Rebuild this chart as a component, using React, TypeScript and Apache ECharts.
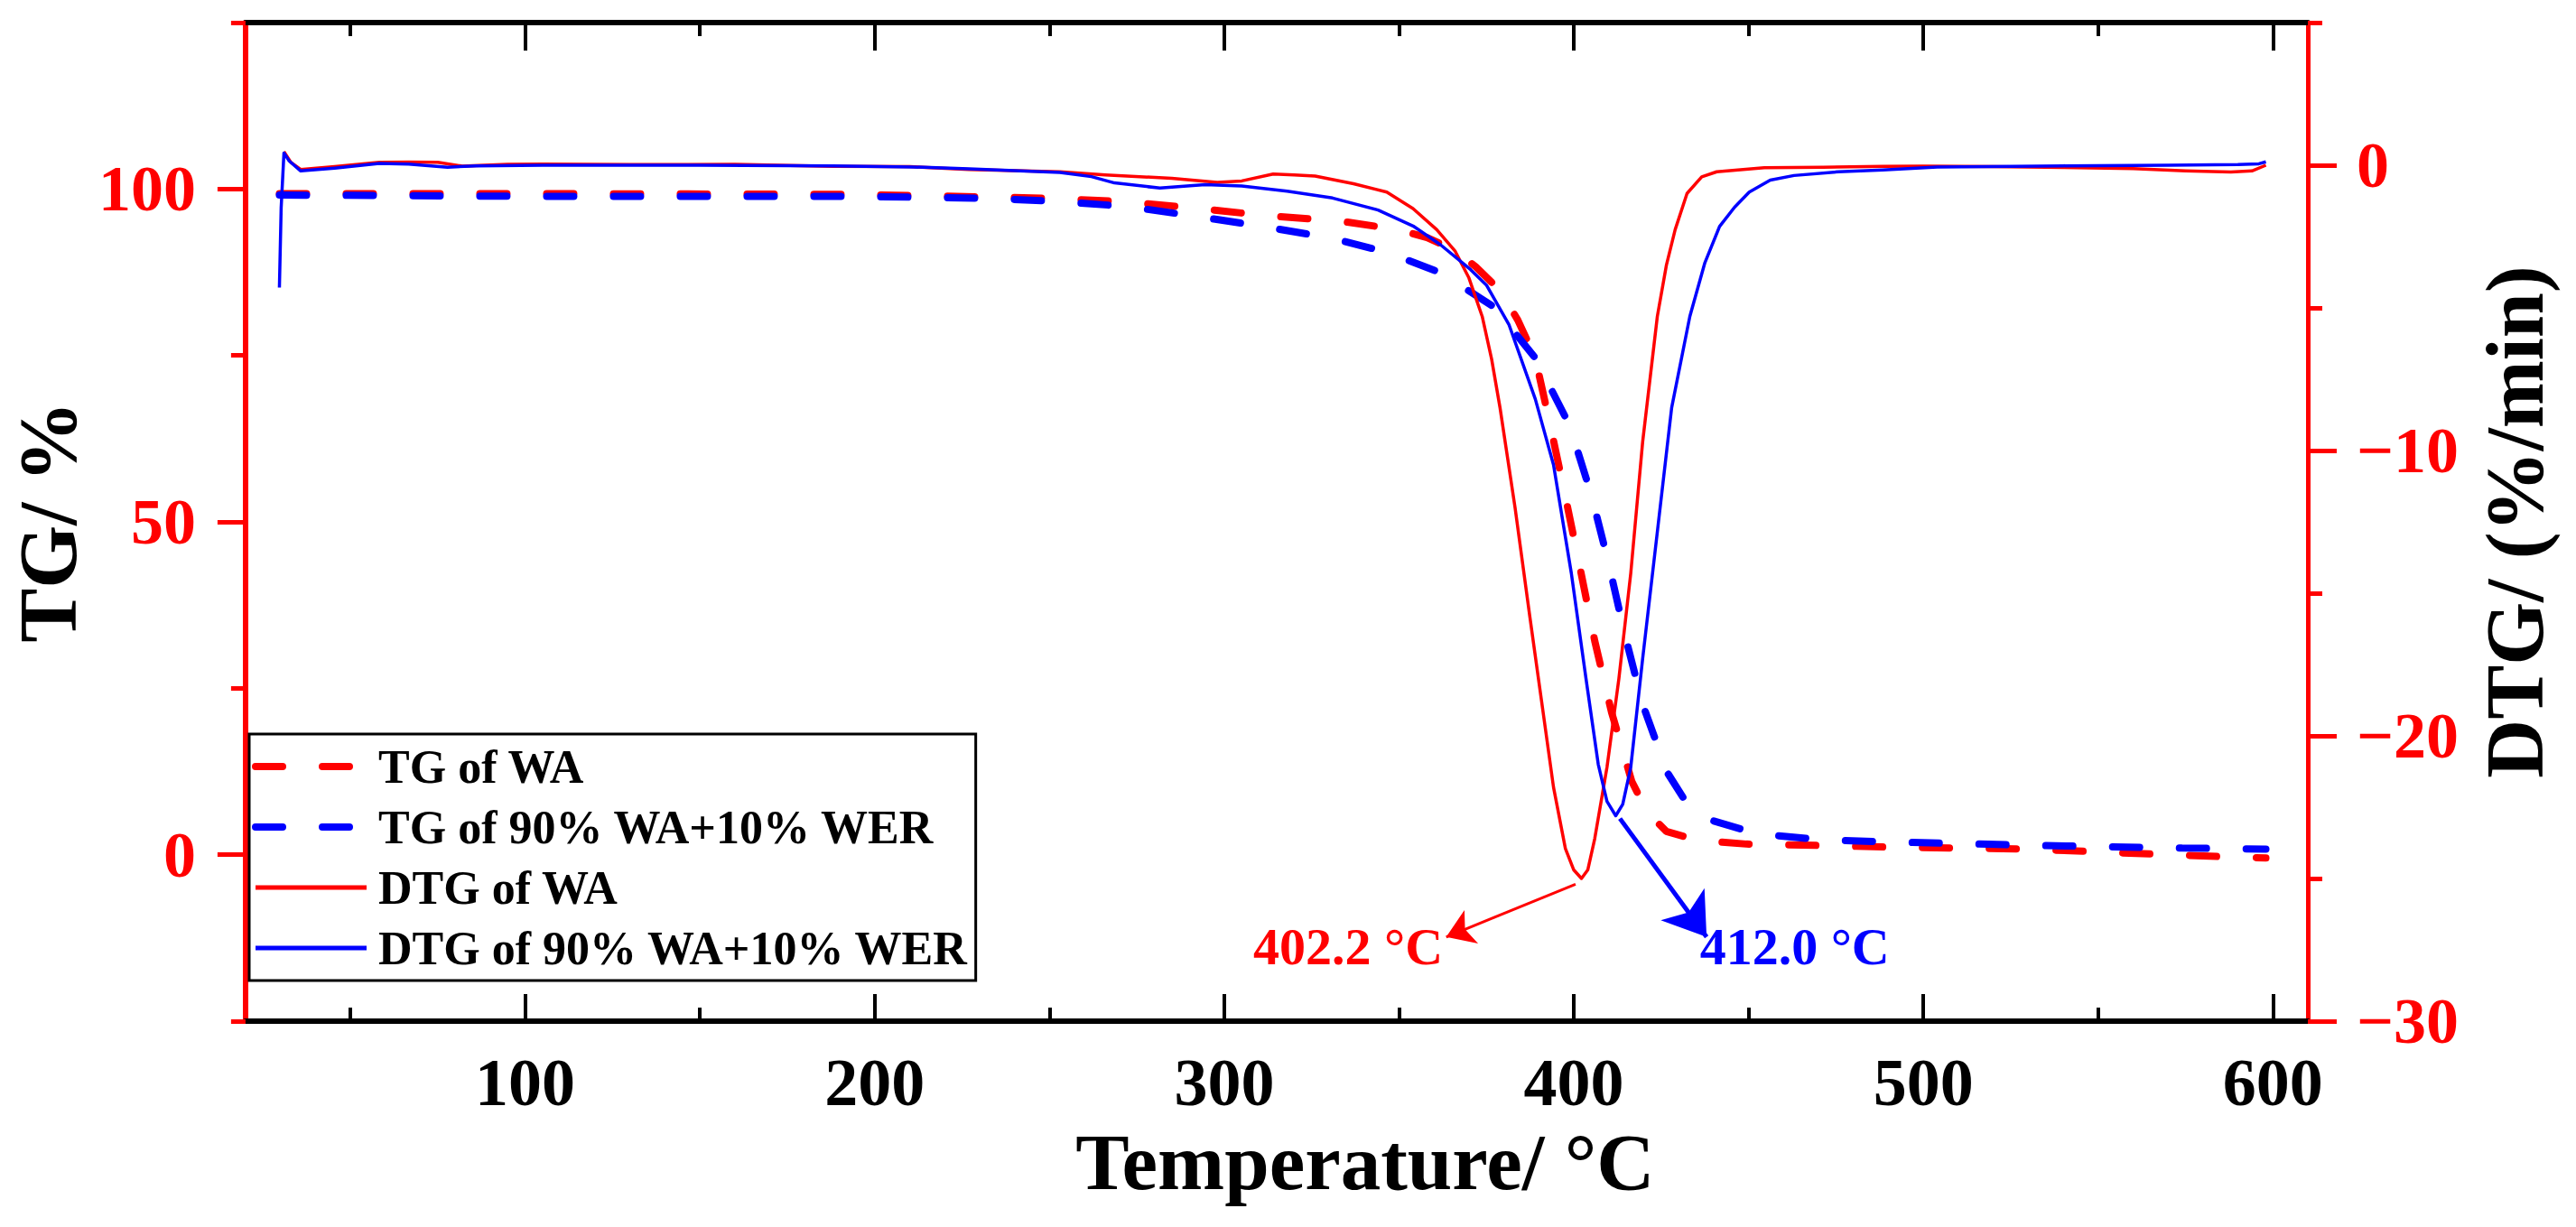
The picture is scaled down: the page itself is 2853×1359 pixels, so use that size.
import React, { useEffect, useRef } from "react";
import * as echarts from "echarts";

// temperature (°C) / value pairs
const tgWA: [number, number][] = [
  [29.7, 99.3], [100, 99.3], [193, 99.2], [212.7, 99.0], [250, 98.6], [271, 98.1],
  [290.6, 97.2], [312, 96.0], [333, 95.2], [349.7, 93.9], [358, 92.7], [366, 90.8],
  [372, 88.3], [379, 84.7], [384, 80.3], [389, 74.6], [393.4, 64.2], [397.6, 53.8],
  [401.9, 42.8], [406, 32.1], [410.8, 21.4], [416.6, 11.0], [421, 6.4], [426.5, 3.5],
  [435, 2.2], [449.4, 1.6], [469.7, 1.4], [490, 1.14], [530, 0.85], [570, 0.0], [598, -0.5],
];

const tgBlend: [number, number][] = [
  [29.7, 99.1], [100, 98.9], [193, 98.9], [233, 98.6], [253, 98.1], [271.8, 97.4],
  [289.4, 96.1], [310.7, 94.4], [331, 92.6], [346.5, 90.5], [362, 87.4], [377.4, 82.2],
  [389, 74.6], [398.8, 64.5], [405, 54.1], [410, 43.7], [414.6, 33.1], [419.7, 22.6],
  [426.8, 12.3], [432, 8.0], [439.2, 5.2], [452.8, 3.1], [472.3, 2.2], [492, 1.9],
  [532, 1.4], [574, 1.0], [598, 0.85],
];

const dtgWA: [number, number][] = [
  [31.0, 0.48], [33, 0.1], [35.8, -0.15], [45.5, -0.05], [58.3, 0.1], [66.7, 0.11],
  [75, 0.1], [82, -0.03], [95, 0.03], [105, 0.04], [130, 0.02], [160, 0.03],
  [188, -0.04], [210, -0.05], [227, -0.15], [253, -0.23], [266, -0.34], [285, -0.46],
  [298, -0.6], [305, -0.55], [314, -0.31], [320, -0.34], [326, -0.38], [337, -0.65],
  [346.5, -0.94], [354, -1.52], [360.8, -2.26], [366, -3.0], [370, -3.95], [373.8, -5.3],
  [376.5, -6.8], [378.9, -8.5], [383.2, -12.0], [387.4, -15.8], [390.8, -18.8],
  [394.2, -21.8], [397.6, -23.95], [400, -24.7], [402.2, -25.0], [404, -24.7],
  [406, -23.6], [409.5, -21.1], [412.9, -18.0], [416.3, -14.3], [419.7, -9.7],
  [423.9, -5.3], [426.5, -3.5], [429, -2.26], [432.4, -0.99], [436.6, -0.41],
  [440.9, -0.23], [454.5, -0.09], [471.3, -0.07], [488.4, -0.04], [500, -0.03],
  [520, -0.05], [540, -0.08], [560, -0.12], [575, -0.2], [588, -0.24], [594, -0.2],
  [598, 0.0],
];

const dtgBlend: [number, number][] = [
  [29.7, -4.29], [30.2, -1.5], [31.0, 0.43], [32.5, 0.15], [35.8, -0.2], [45.5, -0.1],
  [58.3, 0.06], [66.7, 0.04], [77.8, -0.07], [86, -0.02], [105, 0.0], [150, 0.0],
  [188, -0.02], [211, -0.06], [227, -0.13], [253, -0.25], [262, -0.4], [268.6, -0.62],
  [281.6, -0.8], [294.5, -0.68], [305, -0.73], [318, -0.91], [331, -1.15], [344, -1.57],
  [354.3, -2.15], [362, -2.8], [370.5, -3.66], [375, -4.2], [381.5, -5.6], [389, -8.2],
  [394.2, -10.5], [399.3, -14.3], [403.5, -18.0], [407, -21.0], [409.5, -22.3],
  [412.0, -22.8], [414, -22.4], [416.3, -21.1], [419.7, -17.3], [424, -12.75],
  [428, -8.5], [433.2, -5.3], [437.5, -3.42], [441.7, -2.15], [446, -1.47],
  [450.2, -0.94], [456.2, -0.52], [463, -0.36], [475.7, -0.23], [488.4, -0.17],
  [504, -0.06], [540, -0.02], [570, 0.0], [590, 0.02], [596, 0.05], [598, 0.12],
];

const seriesNames = [
  "TG of WA",
  "TG of 90% WA+10% WER",
  "DTG of WA",
  "DTG of 90% WA+10% WER",
];

const xMajor = [100, 200, 300, 400, 500, 600];
const xMinor = [50, 150, 250, 350, 450, 550];
const tgMajor = [0, 50, 100];
const tgMinor = [-25, 25, 75, 125];
const dtgMajor = [0, -10, -20, -30];
const dtgMinor = [5, -5, -15, -25];

// peak annotations: arrow start near the peak, arrow tip
const redPeak = [400.5, -25.2];
const redTip = [363.5, -27.05];
const bluePeak = [413.2, -22.9];
const blueTip = [438, -27.05];

const RED = "#ff0000";
const BLUE = "#0000ff";
const FONT = "'Liberation Serif', 'Times New Roman', serif";

const App = () => {
  const chartRef = useRef<HTMLDivElement>(null);

  useEffect(() => {
    document.body.style.margin = "0";
    if (!chartRef.current) return;
    const chart = echarts.init(chartRef.current, null, { renderer: "svg" });

    const minus = (v: number) => String(v).replace("-", "\u2212");

    const xBase = (extra: any) => ({
      type: "value",
      min: 20,
      max: 610,
      splitLine: { show: false },
      axisLine: { onZero: false, lineStyle: { color: "#000", width: 6 } },
      ...extra,
    });

    const yBase = (extra: any) => ({
      type: "value",
      splitLine: { show: false },
      axisLine: { onZero: false, lineStyle: { color: RED, width: 6 } },
      ...extra,
    });

    const legendItem = (name: string, width: number) => ({
      name,
      itemStyle: { opacity: 0 },
      lineStyle: { width },
    });

    const option: any = {
      animation: false,
      backgroundColor: "#fff",
      grid: { left: 240, right: 297, top: 25, bottom: 228, containLabel: false },
      legend: {
        orient: "vertical",
        left: 276,
        top: 813,
        padding: [6, 8, 6, 3],
        itemWidth: 123,
        itemHeight: 20,
        itemGap: 7,
        borderColor: "#000",
        borderWidth: 3,
        data: [
          legendItem(seriesNames[0], 8),
          legendItem(seriesNames[1], 8),
          legendItem(seriesNames[2], 5),
          legendItem(seriesNames[3], 5),
        ],
        textStyle: {
          fontFamily: FONT,
          fontWeight: "bold",
          fontSize: 52,
          lineHeight: 60,
          color: "#000",
          padding: [0, 0, 0, 8],
        },
      },
      xAxis: [
        xBase({
          position: "bottom",
          axisTick: { inside: true, length: 30, customValues: xMajor, lineStyle: { color: "#000", width: 4 } },
          axisLabel: {
            customValues: xMajor,
            margin: 31,
            fontFamily: FONT,
            fontWeight: "bold",
            fontSize: 74,
            color: "#000",
          },
          name: "Temperature/ \u00b0C",
          nameLocation: "middle",
          nameGap: 111,
          nameTextStyle: {
            fontFamily: FONT,
            fontWeight: "bold",
            fontSize: 89,
            color: "#000",
            padding: [0, 0, 0, 196],
          },
        }),
        xBase({
          position: "bottom",
          axisLine: { show: false, onZero: false },
          axisTick: { inside: true, length: 15, customValues: xMinor, lineStyle: { color: "#000", width: 4 } },
          axisLabel: { show: false },
        }),
        xBase({
          position: "top",
          axisTick: { inside: true, length: 31, customValues: xMajor, lineStyle: { color: "#000", width: 4 } },
          axisLabel: { show: false },
        }),
        xBase({
          position: "top",
          axisLine: { show: false, onZero: false },
          axisTick: { inside: true, length: 15, customValues: xMinor, lineStyle: { color: "#000", width: 4 } },
          axisLabel: { show: false },
        }),
      ],
      yAxis: [
        yBase({
          position: "left",
          min: -25,
          max: 125,
          axisTick: { length: 31, customValues: tgMajor, lineStyle: { color: RED, width: 5 } },
          axisLabel: {
            customValues: tgMajor,
            margin: 55,
            fontFamily: FONT,
            fontWeight: "bold",
            fontSize: 72,
            color: RED,
          },
          name: "TG/ %",
          nameLocation: "middle",
          nameGap: 143,
          nameTextStyle: { fontFamily: FONT, fontWeight: "bold", fontSize: 90, color: "#000" },
        }),
        yBase({
          position: "left",
          min: -25,
          max: 125,
          axisLine: { show: false, onZero: false },
          axisTick: { length: 16, customValues: tgMinor, lineStyle: { color: RED, width: 5 } },
          axisLabel: { show: false },
        }),
        yBase({
          position: "right",
          min: -30,
          max: 5,
          axisLine: { onZero: false, lineStyle: { color: RED, width: 5 } },
          axisTick: { length: 32, customValues: dtgMajor, lineStyle: { color: RED, width: 5 } },
          axisLabel: {
            customValues: dtgMajor,
            margin: 54,
            formatter: minus,
            fontFamily: FONT,
            fontWeight: "bold",
            fontSize: 72,
            color: RED,
          },
          name: "DTG/ (%/min)",
          nameLocation: "middle",
          nameGap: 184,
          nameTextStyle: { fontFamily: FONT, fontWeight: "bold", fontSize: 90, color: "#000" },
        }),
        yBase({
          position: "right",
          min: -30,
          max: 5,
          axisLine: { show: false, onZero: false },
          axisTick: { length: 16, customValues: dtgMinor, lineStyle: { color: RED, width: 5 } },
          axisLabel: { show: false },
        }),
      ],
      series: [
        {
          name: seriesNames[0],
          type: "line",
          data: tgWA,
          xAxisIndex: 0,
          yAxisIndex: 0,
          symbol: "none",
          color: RED,
          lineStyle: { color: RED, width: 8, type: [30, 44], cap: "round" },
        },
        {
          name: seriesNames[1],
          type: "line",
          data: tgBlend,
          xAxisIndex: 0,
          yAxisIndex: 0,
          symbol: "none",
          color: BLUE,
          lineStyle: { color: BLUE, width: 8, type: [30, 44], cap: "round" },
        },
        {
          name: seriesNames[2],
          type: "line",
          data: dtgWA,
          xAxisIndex: 0,
          yAxisIndex: 2,
          symbol: "none",
          color: RED,
          lineStyle: { color: RED, width: 3.5, join: "round" },
          markLine: {
            silent: true,
            symbol: ["none", "arrow"],
            symbolSize: 30,
            label: { show: false },
            lineStyle: { color: RED, width: 3, type: "solid" },
            data: [[{ coord: redPeak }, { coord: redTip }]],
          },
          markPoint: {
            silent: true,
            symbol: "circle",
            symbolSize: 1,
            itemStyle: { color: "transparent" },
            data: [
              {
                coord: redTip,
                label: {
                  show: true,
                  formatter: "402.2 \u00b0C",
                  position: "left",
                  distance: 3,
                  offset: [0, 11],
                  fontFamily: FONT,
                  fontWeight: "bold",
                  fontSize: 58,
                  color: RED,
                },
              },
            ],
          },
        },
        {
          name: seriesNames[3],
          type: "line",
          data: dtgBlend,
          xAxisIndex: 0,
          yAxisIndex: 2,
          symbol: "none",
          color: BLUE,
          lineStyle: { color: BLUE, width: 3.5, join: "round" },
          markLine: {
            silent: true,
            symbol: ["none", "arrow"],
            symbolSize: 45,
            label: { show: false },
            lineStyle: { color: BLUE, width: 5, type: "solid" },
            data: [[{ coord: bluePeak }, { coord: blueTip }]],
          },
          markPoint: {
            silent: true,
            symbol: "circle",
            symbolSize: 1,
            itemStyle: { color: "transparent" },
            data: [
              {
                coord: blueTip,
                label: {
                  show: true,
                  formatter: "412.0 \u00b0C",
                  position: "right",
                  distance: 0,
                  offset: [-8, 11],
                  fontFamily: FONT,
                  fontWeight: "bold",
                  fontSize: 58,
                  color: BLUE,
                },
              },
            ],
          },
        },
      ],
    };

    chart.setOption(option);

    const handleResize = () => chart.resize();
    window.addEventListener("resize", handleResize);
    return () => {
      window.removeEventListener("resize", handleResize);
      chart.dispose();
    };
  }, []);

  return <div ref={chartRef} style={{ width: "2853px", height: "1359px" }} />;
};

export default App;
